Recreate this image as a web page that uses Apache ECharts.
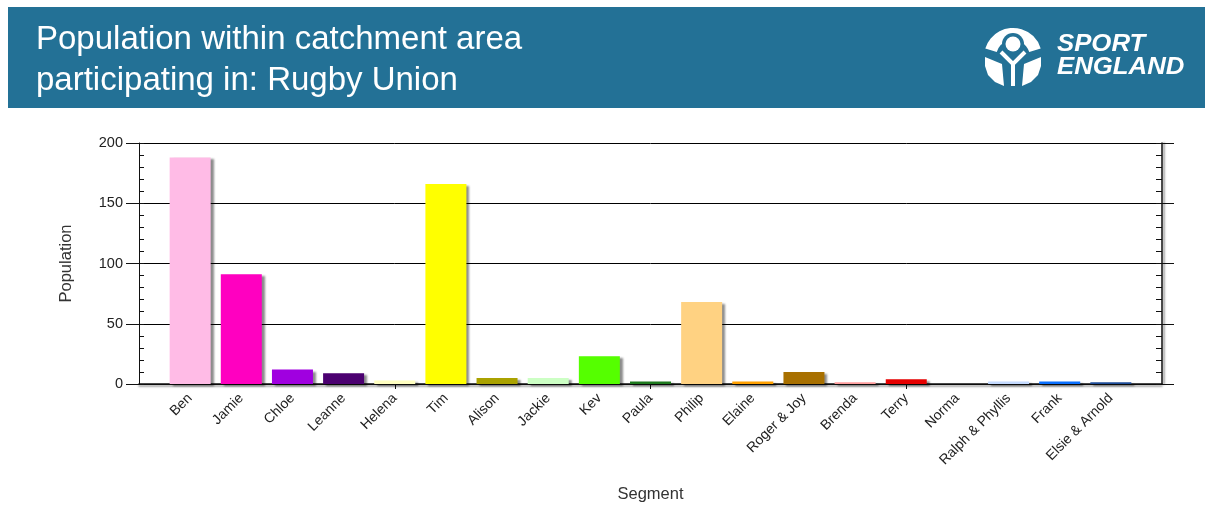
<!DOCTYPE html>
<html>
<head>
<meta charset="utf-8">
<title>Rugby Union</title>
<script src="https://cdn.jsdelivr.net/npm/echarts@6/dist/echarts.min.js"></script>
<style>
  html, body { margin: 0; padding: 0; background: #fff; }
  #main { width: 1205px; height: 509px; }
</style>
</head>
<body>
<div id="main"></div>
<script>
// segment names, populations and bar colours
var segments = ['Ben', 'Jamie', 'Chloe', 'Leanne', 'Helena', 'Tim', 'Alison', 'Jackie', 'Kev', 'Paula',
  'Philip', 'Elaine', 'Roger & Joy', 'Brenda', 'Terry', 'Norma', 'Ralph & Phyllis', 'Frank', 'Elsie & Arnold']
var population = [188, 91, 12, 9, 3, 166, 5, 5, 23, 2, 68, 2, 10, 1.5, 4, 0, 2, 2, 1.5]
var barColors = ['#ffbbe6', '#ff00c0', '#a000e0', '#4b0070', '#ffffc0', '#ffff00', '#aaa200', '#ccffc4', '#55ff00', '#1e7a1e',
  '#ffd282', '#ffa000', '#a87000', '#ff9d9d', '#e60000', '#cccccc', '#c4daff', '#0a70ff', '#1f4e9a']
var yTicks = [0, 200, 50]
var yMinorStep = 10

var font = 'Liberation Sans, Arial, sans-serif'
// pad with an empty slot each side so the bars sit at 1..19 on a 0..20 axis
var cats = [''].concat(segments, [''])
var barData = ['-'].concat(population.map(function (v, i) {
  return { value: v, itemStyle: { color: barColors[i] } }
}), ['-'])

var tickEvery5 = function (index) { return index > 0 && index < 20 && index % 5 === 0 }

// a y axis that only draws the small inward ticks
function minorAxis (pos, len) {
  return {
    type: 'value',
    position: pos,
    min: yTicks[0],
    max: yTicks[1],
    interval: yMinorStep,
    axisLine: { show: false },
    axisTick: { show: true, inside: true, length: len, lineStyle: { color: '#111' } },
    axisLabel: { show: false },
    splitLine: { show: false }
  }
}

let myChart = echarts.init(document.getElementById('main'))
let option = {
  backgroundColor: '#fff',
  animation: false,
  graphic: [
    { type: 'rect', shape: { x: 8, y: 7, width: 1197, height: 101 }, style: { fill: '#237196' }, z: 0 },
    { type: 'text', x: 36, y: 40, style: { text: 'Population within catchment area', fill: '#fff', font: '33px ' + font, verticalAlign: 'middle' } },
    { type: 'text', x: 36, y: 81, style: { text: 'participating in: Rugby Union', fill: '#fff', font: '33px ' + font, verticalAlign: 'middle' } },
    // sport england mark
    { type: 'sector', shape: { cx: 1013, cy: 57, r: 29, r0: 17, startAngle: Math.PI + 0.3, endAngle: Math.PI * 2 - 0.3, clockwise: true }, style: { fill: '#fff' } },
    { type: 'circle', shape: { cx: 1013, cy: 44, r: 11 }, style: { fill: '#237196' } },
    { type: 'circle', shape: { cx: 1013, cy: 44, r: 7.5 }, style: { fill: '#fff' } },
    { type: 'polyline', shape: { points: [[1001, 52], [1013, 64], [1025, 52]] }, style: { stroke: '#fff', lineWidth: 4, fill: null } },
    { type: 'rect', shape: { x: 1011, y: 62, width: 4, height: 24 }, style: { fill: '#fff' } },
    { type: 'polygon', shape: { points: [[985, 57], [1002, 64], [1004, 86], [995, 82], [988, 75], [985, 66]] }, style: { fill: '#fff' } },
    { type: 'polygon', shape: { points: [[1041, 57], [1024, 64], [1022, 86], [1031, 82], [1038, 75], [1041, 66]] }, style: { fill: '#fff' } },
    { type: 'text', x: 1057, y: 45, scaleX: 1.12, originX: 0, style: { text: 'SPORT', fill: '#fff', font: 'italic bold 23px ' + font, verticalAlign: 'middle' } },
    { type: 'text', x: 1057, y: 68, scaleX: 1.12, originX: 0, style: { text: 'ENGLAND', fill: '#fff', font: 'italic bold 23px ' + font, verticalAlign: 'middle' } }
  ],
  grid: { left: 139, right: 43, top: 143, bottom: 125 },
  xAxis: [{
    type: 'category',
    data: cats,
    boundaryGap: false,
    name: 'Segment',
    nameLocation: 'middle',
    nameGap: 102,
    nameTextStyle: { fontFamily: font, fontSize: 16.5, color: '#333' },
    axisLine: { lineStyle: { color: '#111', width: 1.5, shadowColor: 'rgba(0,0,0,0.45)', shadowBlur: 2, shadowOffsetY: 2 } },
    axisTick: { interval: tickEvery5, length: 5, lineStyle: { color: '#111' } },
    axisLabel: { interval: 0, rotate: 45, margin: 12, fontFamily: font, fontSize: 14, color: '#222' },
    splitLine: { show: false }
  }, {
    type: 'category',
    data: cats,
    boundaryGap: false,
    position: 'top',
    axisLine: { show: false },
    axisTick: { interval: tickEvery5, inside: true, length: 5, lineStyle: { color: '#111' } },
    axisLabel: { show: false }
  }],
  yAxis: [{
    type: 'value',
    position: 'left',
    min: yTicks[0],
    max: yTicks[1],
    interval: yTicks[2],
    name: 'Population',
    nameLocation: 'middle',
    nameGap: 64,
    nameTextStyle: { fontFamily: font, fontSize: 16.5, color: '#333' },
    axisLine: { show: true, lineStyle: { color: '#111' } },
    axisTick: { show: true, length: 13, lineStyle: { color: '#111' } },
    axisLabel: { margin: 16, fontFamily: font, fontSize: 14.5, color: '#222' },
    splitLine: { show: true, lineStyle: { color: '#000', width: 1 } }
  },
  minorAxis('left', 5),
  {
    type: 'value',
    position: 'right',
    min: yTicks[0],
    max: yTicks[1],
    interval: yTicks[2],
    axisLine: { show: true, lineStyle: { color: '#111', width: 1.5, shadowColor: 'rgba(0,0,0,0.45)', shadowBlur: 2, shadowOffsetX: 2 } },
    axisTick: { show: true, length: 12, lineStyle: { color: '#111' } },
    axisLabel: { show: false },
    splitLine: { show: false }
  },
  minorAxis('right', 6)],
  series: [{
    type: 'bar',
    xAxisIndex: 0,
    yAxisIndex: 0,
    barWidth: 41,
    data: barData,
    itemStyle: { shadowColor: 'rgba(0,0,0,0.45)', shadowBlur: 2, shadowOffsetX: 3, shadowOffsetY: 2 },
    z: 3
  }]
}
myChart.setOption(option, true)
</script>
</body>
</html>
